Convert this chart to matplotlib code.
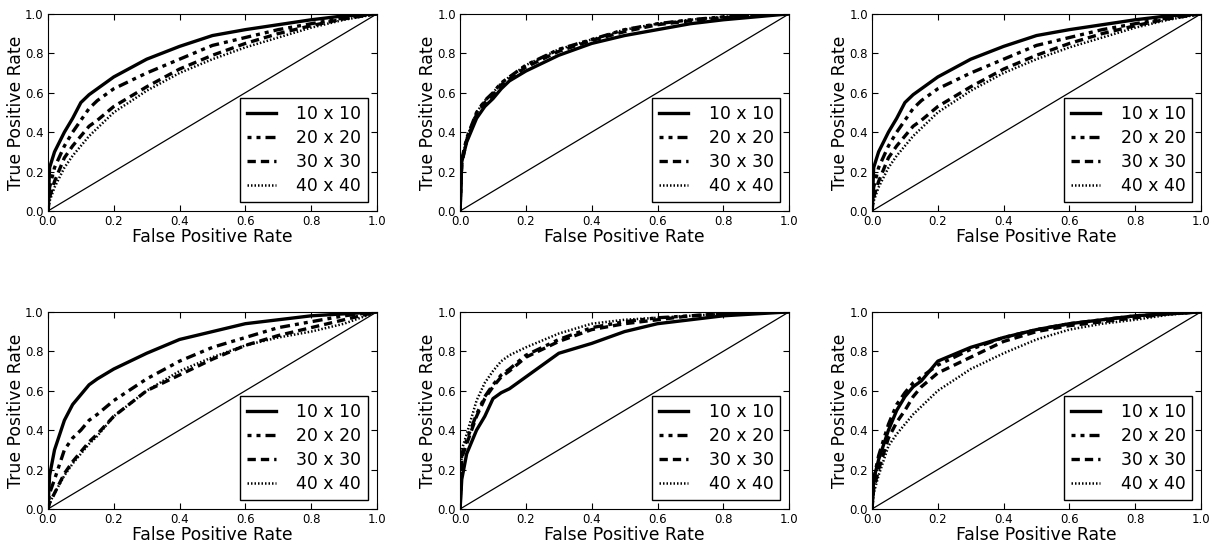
import numpy as np
import matplotlib
matplotlib.use("Agg")
import matplotlib.pyplot as plt

plt.rcParams["font.family"] = "DejaVu Sans"

# shared false positive rate grid
fpr = [0, 0.005, 0.02, 0.05, 0.075, 0.10, 0.125, 0.15, 0.20, 0.30, 0.40,
       0.50, 0.60, 0.70, 0.80, 0.90, 1.0]

labels = ["10 x 10", "20 x 20", "30 x 30", "40 x 40"]

# true positive rates, one list per grid size, one block per panel
tpr_a_10 = [0, .22, .30, .40, .47, .55, .59, .62, .68, .77, .835, .89, .92, .945, .97, .99, 1]
tpr_a_20 = [0, .12, .22, .33, .40, .46, .52, .56, .62, .70, .77, .84, .88, .92, .95, .98, 1]
tpr_a_30 = [0, .07, .15, .27, .33, .38, .43, .46, .53, .63, .72, .79, .85, .90, .94, .975, 1]
tpr_a_40 = [0, .05, .12, .22, .28, .33, .38, .42, .50, .61, .70, .77, .83, .88, .93, .97, 1]

tpr_b_10 = [0, .25, .35, .47, .53, .57, .62, .66, .71, .79, .85, .89, .92, .95, .97, .985, 1]
tpr_b_20 = [0, .26, .37, .50, .56, .60, .65, .68, .74, .82, .87, .92, .95, .97, .985, .995, 1]
tpr_b_30 = [0, .24, .36, .49, .55, .59, .64, .67, .73, .81, .865, .91, .945, .965, .98, .995, 1]
tpr_b_40 = [0, .25, .37, .50, .56, .60, .65, .68, .74, .82, .87, .92, .95, .97, .985, .995, 1]

tpr_c_10 = [0, .17, .30, .45, .53, .58, .63, .66, .71, .79, .86, .90, .94, .96, .98, .99, 1]
tpr_c_20 = [0, .08, .15, .30, .36, .40, .45, .48, .55, .66, .75, .82, .87, .92, .95, .98, 1]
tpr_c_30 = [0, .03, .08, .18, .24, .29, .34, .38, .47, .60, .68, .76, .83, .88, .92, .96, 1]
tpr_c_40 = [0, .03, .08, .17, .23, .28, .33, .37, .47, .60, .70, .77, .83, .87, .90, .94, 1]

tpr_d_10 = [0, .15, .28, .40, .47, .56, .59, .61, .67, .79, .84, .90, .94, .96, .98, .99, 1]
tpr_d_20 = [0, .28, .35, .48, .57, .63, .68, .71, .78, .86, .92, .95, .97, .98, .99, 1, 1]
tpr_d_30 = [0, .26, .33, .47, .56, .62, .67, .70, .77, .85, .91, .94, .96, .98, .99, 1, 1]
tpr_d_40 = [0, .30, .38, .55, .64, .70, .75, .78, .82, .89, .94, .96, .97, .98, .99, 1, 1]

tpr_e_10 = [0, .15, .25, .40, .50, .57, .62, .65, .75, .82, .87, .91, .94, .96, .98, .99, 1]
tpr_e_20 = [0, .15, .27, .43, .53, .59, .64, .67, .73, .81, .87, .91, .94, .96, .98, .99, 1]
tpr_e_30 = [0, .10, .20, .36, .44, .50, .57, .62, .69, .77, .85, .90, .93, .95, .97, .99, 1]
tpr_e_40 = [0, .08, .17, .32, .38, .43, .48, .52, .60, .71, .79, .86, .91, .94, .96, .985, 1]

panels = [
    [tpr_a_10, tpr_a_20, tpr_a_30, tpr_a_40],
    [tpr_b_10, tpr_b_20, tpr_b_30, tpr_b_40],
    [tpr_a_10, tpr_a_20, tpr_a_30, tpr_a_40],  # top right repeats top left
    [tpr_c_10, tpr_c_20, tpr_c_30, tpr_c_40],
    [tpr_d_10, tpr_d_20, tpr_d_30, tpr_d_40],
    [tpr_e_10, tpr_e_20, tpr_e_30, tpr_e_40],
]

styles = [
    dict(linestyle="-", lw=2.4),
    dict(linestyle=(0, (1.2, 1.5, 1.2, 1.5, 3, 1.5)), lw=2.4),
    dict(linestyle=(0, (2.5, 1.5)), lw=2.4),
    dict(linestyle=(0, (0.6, 0.8)), lw=1.8),
]

fig = plt.figure(figsize=(12.14, 5.46), dpi=100)

lefts = [0.0395, 0.379, 0.7183]
bottoms = [0.6136, 0.0678]
w, h = 0.271, 0.361

for i, curves in enumerate(panels):
    ax = fig.add_axes([lefts[i % 3], bottoms[i // 3], w, h])
    for tpr, lab, st in zip(curves, labels, styles):
        ax.plot(fpr, tpr, color="k", label=lab, **st)
    ax.plot([0, 1], [0, 1], color="k", lw=0.9)
    ax.set_xlim(0, 1)
    ax.set_ylim(0, 1)
    ax.set_xticks(np.arange(0, 1.01, 0.2))
    ax.set_yticks(np.arange(0, 1.01, 0.2))
    ax.tick_params(direction="in", top=True, right=True, length=4, labelsize=8.5, pad=3)
    ax.set_xlabel("False Positive Rate", fontsize=12.4, labelpad=0)
    ax.set_ylabel("True Positive Rate", fontsize=12.4, labelpad=0)
    leg = ax.legend(loc="lower right", fontsize=12.4, fancybox=False, framealpha=1,
                    edgecolor="k", handlelength=1.7, labelspacing=0.36,
                    borderaxespad=0.5, handletextpad=1.2, borderpad=0.4)
    leg.get_frame().set_linewidth(1.0)

fig.savefig("out.png", dpi=100)
